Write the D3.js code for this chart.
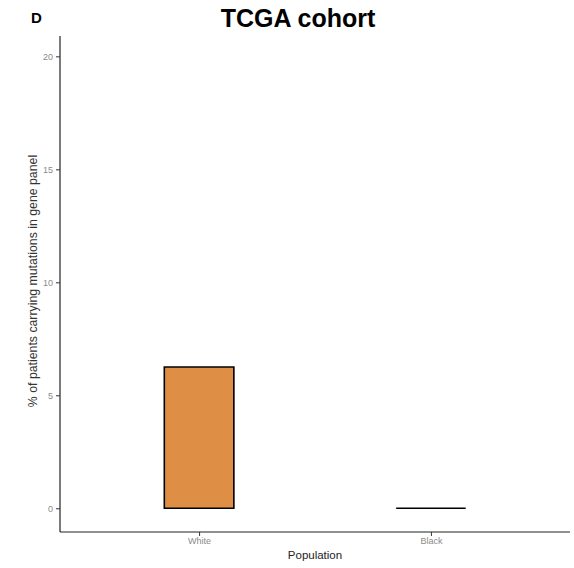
<!DOCTYPE html>
<html>
<head>
<meta charset="utf-8">
<script src="https://cdn.jsdelivr.net/npm/d3@7"></script>
<style>
  body { margin: 0; background: #fff; }
  text { font-family: "Liberation Sans", Arial, sans-serif; }
</style>
</head>
<body>
<div id="chart"></div>
<script>
var populations = ["White", "Black"];
var percentCarrying = [6.25, 0];
var yTicks = [0, 5, 10, 15, 20];

var margin = { left: 60, right: 4, top: 36, bottom: 36 };
var width = 574 - margin.left - margin.right;
var height = 568 - margin.top - margin.bottom;

var svg = d3.select("#chart")
	.append("svg")
		.attr("width", 574)
		.attr("height", 568);

var g = svg.append("g")
	.attr("transform", "translate(" + margin.left + "," + margin.top + ")");

// ggplot style discrete axis: 0.6 units padding each side
var x = d3.scaleLinear()
	.domain([0.4, 2.6])
	.range([0, width]);

var y = d3.scaleLinear()
	.domain([-1.05, 20.9])
	.range([height, 0]);

var barWidth = x(1.3) - x(1);

var data = populations.map(function(p, i) {
	return { pop: p, value: percentCarrying[i], pos: i + 1 };
});

// bars as closed paths so a zero bar still shows its outline
g.selectAll("path.bar")
	.data(data)
	.enter()
	.append("path")
		.attr("class", "bar")
		.attr("d", function(d) {
			var x0 = x(d.pos) - barWidth / 2, x1 = x0 + barWidth;
			var y0 = y(0), y1 = y(d.value);
			return "M" + x0 + "," + y0 + "L" + x0 + "," + y1 + "L" + x1 + "," + y1 + "L" + x1 + "," + y0 + "Z";
		})
		.attr("fill", "#de8f45")
		.attr("stroke", "black")
		.attr("stroke-width", 1.6);

// y axis
var yAxis = g.append("g")
	.call(d3.axisLeft(y).tickValues(yTicks).tickSize(4).tickPadding(3));
yAxis.select(".domain").attr("d", "M0,0V" + height).attr("stroke", "#222").attr("stroke-width", 1.2);
yAxis.selectAll(".tick line").attr("stroke", "#333");
yAxis.selectAll(".tick text").attr("fill", "#8a8a8a").attr("font-size", 9);

// x axis
var xAxis = g.append("g")
	.attr("transform", "translate(0," + height + ")")
	.call(d3.axisBottom(x).tickValues([1, 2]).tickFormat(function(d) { return populations[d - 1]; }).tickSize(4).tickPadding(2));
xAxis.select(".domain").attr("d", "M0,0H" + width).attr("stroke", "#222").attr("stroke-width", 1.2);
xAxis.selectAll(".tick line").attr("stroke", "#333");
xAxis.selectAll(".tick text").attr("fill", "#8a8a8a").attr("font-size", 9);

// labels
svg.append("text")
	.attr("x", x(1.5) + margin.left)
	.attr("y", 559)
	.attr("text-anchor", "middle")
	.attr("font-size", 11.5)
	.attr("fill", "#222")
	.text("Population");

svg.append("text")
	.attr("transform", "translate(37,281) rotate(-90)")
	.attr("text-anchor", "middle")
	.attr("font-size", 12.3)
	.attr("fill", "#333")
	.text("% of patients carrying mutations in gene panel");

svg.append("text")
	.attr("x", 298)
	.attr("y", 27)
	.attr("text-anchor", "middle")
	.attr("font-size", 25)
	.attr("font-weight", "bold")
	.attr("fill", "#000")
	.text("TCGA cohort");

svg.append("text")
	.attr("x", 31)
	.attr("y", 23)
	.attr("font-size", 15)
	.attr("font-weight", "bold")
	.attr("fill", "#000")
	.text("D");
</script>
</body>
</html>
